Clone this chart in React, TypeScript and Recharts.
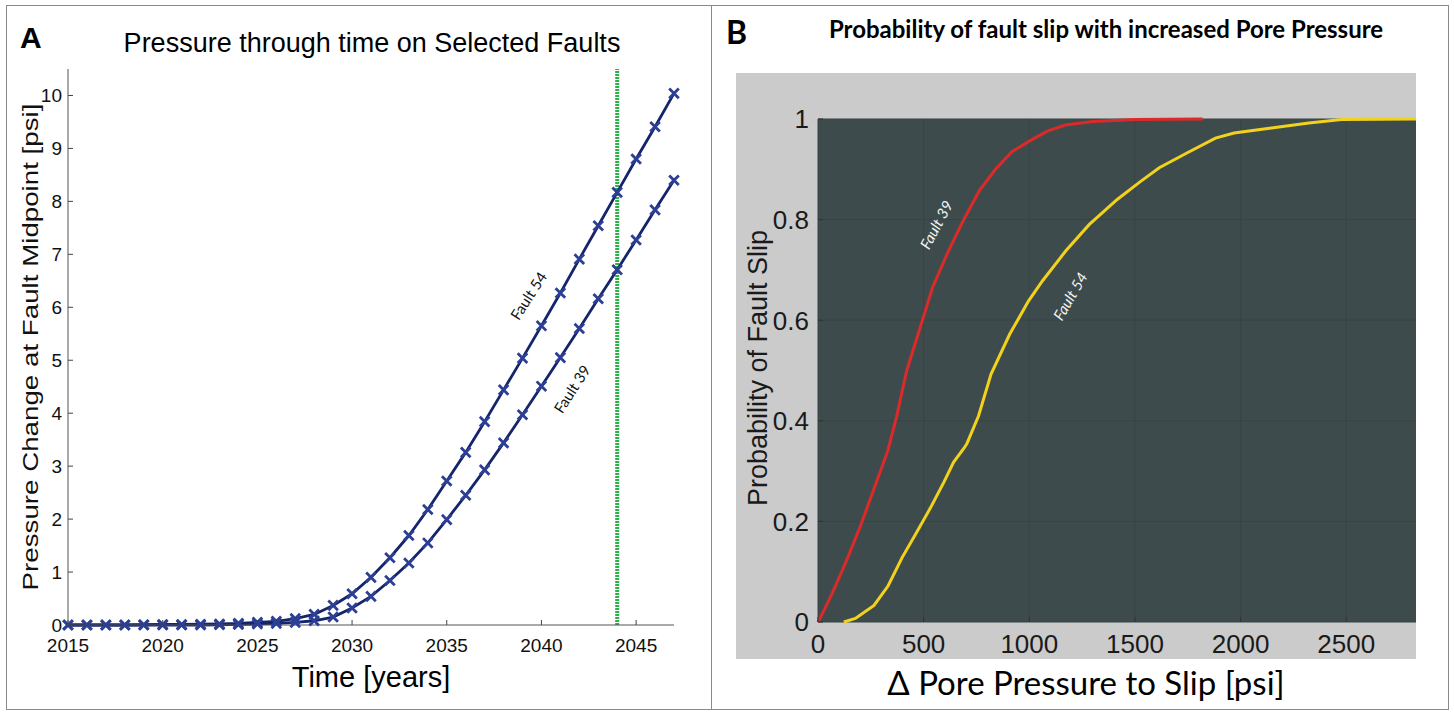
import React from 'react'
import {
  CartesianGrid,
  Line,
  LineChart,
  ReferenceDot,
  ReferenceLine,
  XAxis,
  YAxis,
} from 'recharts'

// panel A: pressure at fault midpoint, one value per year
const years = [
  2015, 2016, 2017, 2018, 2019, 2020, 2021, 2022, 2023, 2024, 2025, 2026, 2027, 2028, 2029, 2030, 2031,
  2032, 2033, 2034, 2035, 2036, 2037, 2038, 2039, 2040, 2041, 2042, 2043, 2044, 2045, 2046, 2047,
]
const fault54Pressure = [
  0, 0, 0, 0, 0.005, 0.01, 0.01, 0.015, 0.02, 0.03, 0.05, 0.07, 0.12, 0.2, 0.37, 0.59, 0.9, 1.27, 1.69,
  2.18, 2.72, 3.26, 3.84, 4.44, 5.04, 5.65, 6.27, 6.91, 7.54, 8.17, 8.8, 9.41, 10.04,
]
const fault39Pressure = [
  0, 0, 0, 0, 0, 0, 0, 0, 0.005, 0.01, 0.02, 0.03, 0.05, 0.08, 0.15, 0.32, 0.54, 0.84, 1.17, 1.55, 1.99,
  2.45, 2.93, 3.44, 3.97, 4.51, 5.05, 5.6, 6.16, 6.71, 7.27, 7.84, 8.4,
]
const yearTicks = [2015, 2020, 2025, 2030, 2035, 2040, 2045]
const pressureTicks = [0, 1, 2, 3, 4, 5, 6, 7, 8, 9, 10]
const markedYear = 2044

// panel B: cumulative probability of slip vs pore pressure change
const fault39Psi = [0, 25, 66, 133, 200, 265, 330, 370, 420, 487, 542, 620, 686, 763, 840, 918, 1000, 1085, 1170, 1300, 1500, 1820]
const fault39Prob = [0, 0.02, 0.056, 0.12, 0.19, 0.265, 0.34, 0.405, 0.5, 0.59, 0.665, 0.74, 0.797, 0.857, 0.9, 0.935, 0.956, 0.976, 0.988, 0.995, 0.999, 1]
const fault54Psi = [
  122, 177, 265, 332, 398, 465, 531, 597, 642, 690, 705, 760, 819, 907, 996, 1062, 1173, 1283, 1416, 1527,
  1615, 1748, 1881, 1969, 2146, 2323, 2478, 2830,
]
const fault54Prob = [
  0, 0.007, 0.033, 0.072, 0.128, 0.177, 0.226, 0.279, 0.318, 0.345, 0.355, 0.41, 0.493, 0.572, 0.638, 0.678,
  0.738, 0.79, 0.84, 0.876, 0.903, 0.933, 0.962, 0.972, 0.982, 0.992, 0.999, 1,
]
const psiTicks = [0, 500, 1000, 1500, 2000, 2500]
const probTicks = [0, 0.2, 0.4, 0.6, 0.8, 1]

const pressureData = years.map((year, i) => ({ year, f54: fault54Pressure[i], f39: fault39Pressure[i] }))
const slip39 = fault39Psi.map((psi, i) => ({ psi, p: fault39Prob[i] }))
const slip54 = fault54Psi.map((psi, i) => ({ psi, p: fault54Prob[i] }))

const helv = '"Liberation Sans", Arial, sans-serif'
const cali = 'Lato, "Open Sans", sans-serif'
const navy = '#14256b'

function CrossDot(props: any) {
  const { cx, cy, index } = props
  if (cx == null || cy == null) return null
  const s = 4.8
  return (
    <path
      key={index}
      d={`M${cx - s},${cy - s}L${cx + s},${cy + s}M${cx - s},${cy + s}L${cx + s},${cy - s}`}
      stroke="#2c3f94"
      strokeWidth={2.8}
      fill="none"
    />
  )
}

function TickA({ x, y, payload, side }: any) {
  if (side === 'bottom') {
    return (
      <g>
        <line x1={x} y1={y} x2={x} y2={y - 5} stroke="#444" />
        <text x={x} y={y + 27} textAnchor="middle" fontSize={19} fontFamily={helv} fill="#111">
          {payload.value}
        </text>
      </g>
    )
  }
  return (
    <g>
      <line x1={x} y1={y} x2={x + 5} y2={y} stroke="#444" />
      <text x={x - 6} y={y} dy="0.36em" textAnchor="end" fontSize={19} fontFamily={helv} fill="#111">
        {payload.value}
      </text>
    </g>
  )
}

function TickB({ x, y, payload, side }: any) {
  if (side === 'bottom') {
    return (
      <g>
        <line x1={x} y1={y} x2={x} y2={y - 5} stroke="#2b3434" />
        <text x={x} y={y + 31} textAnchor="middle" fontSize={26} fontFamily={helv} fill="#1a1a1a">
          {payload.value}
        </text>
      </g>
    )
  }
  return (
    <g>
      <line x1={x} y1={y} x2={x + 5} y2={y} stroke="#2b3434" />
      <text x={x - 9} y={y} dy="0.36em" textAnchor="end" fontSize={26} fontFamily={helv} fill="#1a1a1a">
        {payload.value}
      </text>
    </g>
  )
}

function SlantLabel({ viewBox, text, rot, color, italic }: any) {
  const { x, y } = viewBox
  return (
    <text
      x={x}
      y={y}
      transform={`rotate(${rot} ${x} ${y})`}
      textAnchor="middle"
      dominantBaseline="central"
      fontSize={15}
      fontFamily={cali}
      fontStyle={italic ? 'italic' : 'normal'}
      fill={color}
    >
      {text}
    </text>
  )
}

const abs = (extra: React.CSSProperties): React.CSSProperties => ({
  position: 'absolute',
  whiteSpace: 'nowrap',
  ...extra,
})

const rotated = (cx: number, cy: number, stretch: number, extra: React.CSSProperties): React.CSSProperties =>
  abs({ left: cx, top: cy, transform: `translate(-50%, -50%) rotate(-90deg) scaleX(${stretch})`, ...extra })

function PressurePanel() {
  return (
    <div style={abs({ left: 0, top: 0, width: 712, height: 714 })}>
      <div style={abs({ left: 20, top: 23, fontFamily: helv, fontWeight: 700, fontSize: 30, lineHeight: '30px' })}>A</div>
      <div style={abs({ left: 372, top: 43, transform: 'translate(-50%, -50%)', fontFamily: helv, fontSize: 27 })}>
        Pressure through time on Selected Faults
      </div>
      <div style={rotated(31, 347, 1.26, { fontFamily: helv, fontSize: 22, color: '#111' })}>
        Pressure Change at Fault Midpoint [psi]
      </div>
      <div style={abs({ left: 371, top: 677, transform: 'translate(-50%, -50%)', fontFamily: helv, fontSize: 29 })}>
        Time [years]
      </div>
      <LineChart width={712} height={714} data={pressureData} margin={{ top: 69, right: 38, bottom: 59, left: 8 }}>
        <XAxis
          dataKey="year"
          type="number"
          domain={[2015, 2047]}
          ticks={yearTicks}
          height={30}
          tickSize={0}
          tickMargin={0}
          stroke="#555"
          tick={<TickA side="bottom" />}
        />
        <YAxis
          type="number"
          domain={[0, 10.5]}
          ticks={pressureTicks}
          width={60}
          tickSize={0}
          tickMargin={0}
          stroke="#555"
          tick={<TickA side="left" />}
        />
        <ReferenceLine x={markedYear} stroke="#2bb04a" strokeWidth={4} strokeDasharray="2 1" />
        <Line
          dataKey="f39"
          stroke={navy}
          strokeWidth={2.8}
          dot={CrossDot}
          activeDot={false}
          isAnimationActive={false}
        />
        <Line
          dataKey="f54"
          stroke={navy}
          strokeWidth={2.8}
          dot={CrossDot}
          activeDot={false}
          isAnimationActive={false}
        />
        <ReferenceDot x={2039.3} y={6.22} r={0} fill="none" stroke="none"
          label={<SlantLabel text="Fault 54" rot={-57} color="#111" />} />
        <ReferenceDot x={2041.6} y={4.46} r={0} fill="none" stroke="none"
          label={<SlantLabel text="Fault 39" rot={-57} color="#111" />} />
      </LineChart>
    </div>
  )
}

function SlipPanel() {
  return (
    <div style={abs({ left: 720, top: 0, width: 734, height: 714 })}>
      <div style={abs({ left: 6, top: 16, fontFamily: cali, fontWeight: 700, fontSize: 32, lineHeight: '32px' })}>B</div>
      <div style={abs({ left: 386, top: 28, transform: 'translate(-50%, -50%)', fontFamily: cali, fontWeight: 700, fontSize: 24 })}>
        Probability of fault slip with increased Pore Pressure
      </div>
      <div style={abs({ left: 16, top: 73, width: 680, height: 586, background: '#cbcbcb' })} />
      <div style={rotated(38, 368, 1, { fontFamily: helv, fontSize: 27, color: '#1a1a1a' })}>
        Probability of Fault Slip
      </div>
      <div style={abs({ left: 366, top: 682, transform: 'translate(-50%, -50%)', fontFamily: cali, fontSize: 33 })}>
        Δ Pore Pressure to Slip [psi]
      </div>
      <LineChart width={734} height={714} margin={{ top: 119, right: 38, bottom: 62, left: 38 }}>
        <CartesianGrid fill="#3e4b4c" stroke="#394544" horizontalValues={probTicks} verticalValues={psiTicks} />
        <XAxis
          dataKey="psi"
          type="number"
          domain={[0, 2830]}
          ticks={psiTicks}
          height={30}
          tickSize={0}
          tickMargin={0}
          axisLine={false}
          tick={<TickB side="bottom" />}
        />
        <YAxis
          type="number"
          domain={[0, 1]}
          ticks={probTicks}
          width={60}
          tickSize={0}
          tickMargin={0}
          axisLine={false}
          tick={<TickB side="left" />}
        />
        <Line data={slip39} dataKey="p" stroke="#dc2a2a" strokeWidth={3} dot={false} activeDot={false} isAnimationActive={false} />
        <Line data={slip54} dataKey="p" stroke="#f2d21c" strokeWidth={3} dot={false} activeDot={false} isAnimationActive={false} />
        <ReferenceDot x={558} y={0.79} r={0} fill="none" stroke="none"
          label={<SlantLabel text="Fault 39" rot={-62} color="#f4f4f4" italic />} />
        <ReferenceDot x={1192} y={0.648} r={0} fill="none" stroke="none"
          label={<SlantLabel text="Fault 54" rot={-60} color="#f4f4f4" italic />} />
      </LineChart>
    </div>
  )
}

export default function App() {
  return (
    <div style={{ position: 'absolute', left: 0, top: 0, width: 1454, height: 714, background: '#fff', overflow: 'hidden' }}>
      <PressurePanel />
      <SlipPanel />
      <div style={abs({ left: 6, top: 5, width: 1443, height: 705, border: '1.5px solid #8a8a8a', boxSizing: 'border-box' })} />
      <div style={abs({ left: 711, top: 5, width: 0, height: 705, borderLeft: '1.5px solid #8a8a8a' })} />
    </div>
  )
}
